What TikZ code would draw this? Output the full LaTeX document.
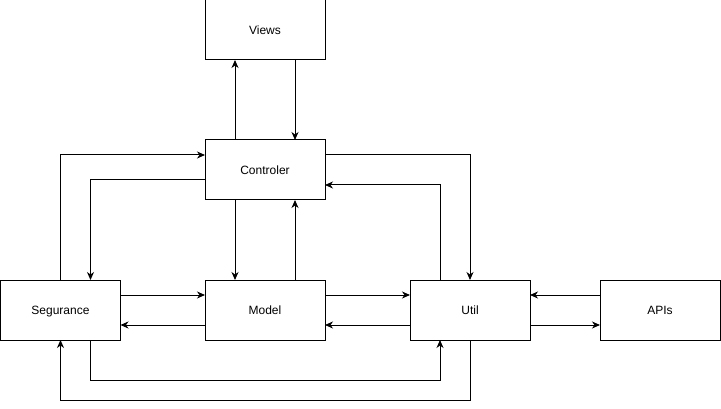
\documentclass[tikz,border=0pt]{standalone}
\usepackage{fontspec}
\setmainfont{Liberation Sans}
\usetikzlibrary{arrows.meta,calc}
\begin{document}
\begin{tikzpicture}[x=1pt,y=-1pt,
  box/.style={draw=black,line width=1pt,minimum width=120pt,minimum height=60pt,outer sep=0pt,inner sep=0pt,text height=8.6pt,text depth=0pt,font=\fontsize{12}{14}\selectfont},
  conn/.style={draw=black,line width=1pt,-{Stealth[length=8pt,width=7pt,inset=2.5pt]}}]
\useasboundingbox (0,0) rectangle (721,409);
\node[box] (views) at (265,30) {Views};
\node[box] (ctrl) at (265,170) {Controler};
\node[box] (seg) at (60.5,310) {Segurance};
\node[box] (model) at (265,310) {Model};
\node[box] (util) at (470,310) {Util};
\node[box] (apis) at (660,310) {APIs};
% Views <-> Controler
\draw[conn] ($(ctrl.north)+(-30,0)$) -- ($(views.south)+(-30,0)$);
\draw[conn] ($(views.south)+(30,0)$) -- ($(ctrl.north)+(30,0)$);
% Segurance <-> Controler
\draw[conn] (seg.north) |- ($(ctrl.west)+(0,-15)$);
\draw[conn] ($(ctrl.west)+(0,10)$) -| ($(seg.north)+(30,0)$);
% Controler <-> Util
\draw[conn] ($(ctrl.east)+(0,-15)$) -| (util.north);
\draw[conn] ($(util.north)+(-30,0)$) |- ($(ctrl.east)+(0,15)$);
% Controler <-> Model
\draw[conn] ($(ctrl.south)+(-30,0)$) -- ($(model.north)+(-30,0)$);
\draw[conn] ($(model.north)+(30,0)$) -- ($(ctrl.south)+(30,0)$);
% Segurance <-> Model
\draw[conn] ($(seg.east)+(0,-15)$) -- ($(model.west)+(0,-15)$);
\draw[conn] ($(model.west)+(0,15)$) -- ($(seg.east)+(0,15)$);
% Model <-> Util
\draw[conn] ($(model.east)+(0,-15)$) -- ($(util.west)+(0,-15)$);
\draw[conn] ($(util.west)+(0,15)$) -- ($(model.east)+(0,15)$);
% APIs <-> Util
\draw[conn] ($(apis.west)+(0,-15)$) -- ($(util.east)+(0,-15)$);
\draw[conn] ($(util.east)+(0,15)$) -- ($(apis.west)+(0,15)$);
% Segurance <-> Util (bottom)
\draw[conn] ($(seg.south)+(30,0)$) -- ++(0,40) -| ($(util.south)+(-30,0)$);
\draw[conn] (util.south) -- ++(0,60) -| (seg.south);
\end{tikzpicture}
\end{document}
